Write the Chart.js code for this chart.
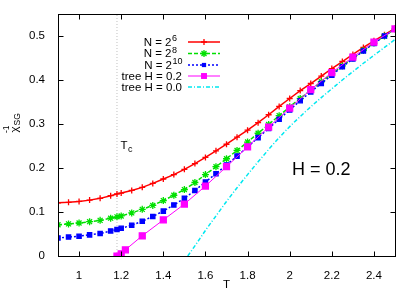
<!DOCTYPE html>
<html><head><meta charset="utf-8">
<script src="https://cdn.jsdelivr.net/npm/chart.js@4"></script>
<style>html,body{margin:0;padding:0;background:#fff}#wrap{width:415px;height:291px;position:relative}</style>
</head><body><div id="wrap"><canvas id="c" width="415" height="291"></canvas></div>
<script>
// ---- data ----
const temps = [0.9,0.95,1.0,1.05,1.1,1.15,1.18,1.2,1.25,1.3,1.35,1.4,1.45,1.5,1.55,1.6,1.65,1.7,1.75,1.8,1.85,1.9,1.95,2.0,2.05,2.1,2.15,2.2,2.25,2.3,2.35,2.4,2.45,2.5];
const chiN6  = [0.121,0.122,0.124,0.127,0.131,0.137,0.141,0.143,0.149,0.156,0.165,0.175,0.185,0.197,0.210,0.224,0.239,0.254,0.270,0.286,0.303,0.321,0.340,0.358,0.376,0.392,0.409,0.426,0.442,0.458,0.474,0.489,0.503,0.517];
const chiN8  = [0.071,0.073,0.075,0.078,0.081,0.086,0.089,0.091,0.098,0.106,0.115,0.126,0.138,0.151,0.167,0.185,0.203,0.221,0.240,0.259,0.279,0.299,0.319,0.339,0.358,0.377,0.396,0.414,0.432,0.450,0.467,0.484,0.500,0.516];
const chiN10 = [0.041,0.043,0.045,0.048,0.051,0.057,0.060,0.063,0.070,0.079,0.090,0.102,0.116,0.131,0.149,0.168,0.187,0.207,0.227,0.248,0.269,0.290,0.311,0.332,0.353,0.373,0.392,0.411,0.430,0.448,0.466,0.483,0.500,0.516];
const tempsTree02 = [1.18,1.2,1.22,1.3,1.4,1.5,1.6,1.7,1.8,1.9,2.0,2.1,2.2,2.3,2.4,2.5];
const chiTree02   = [0,0.005,0.014,0.046,0.082,0.118,0.159,0.203,0.248,0.293,0.336,0.378,0.417,0.452,0.486,0.516];
const tempsTree00 = [1.516,1.55,1.6,1.65,1.7,1.75,1.8,1.85,1.9,1.95,2.0,2.05,2.1,2.15,2.2,2.25,2.3,2.35,2.4,2.45,2.5];
const chiTree00   = [0,0.023,0.058,0.091,0.124,0.155,0.185,0.214,0.242,0.269,0.294,0.317,0.339,0.360,0.380,0.400,0.419,0.438,0.456,0.474,0.492];
const Tc = 1.18;
const xTickValues = [1,1.2,1.4,1.6,1.8,2,2.2,2.4];
const yTickValues = [0,0.1,0.2,0.3,0.4,0.5];
const seriesNames = [["N = 2","6"],["N = 2","8"],["N = 2","10"],["tree H = 0.2",""],["tree H = 0.0",""]];
const fieldLabel = "H = 0.2";

const FONT = "'Liberation Sans', Arial, Helvetica, sans-serif";
const toXY = (xs, ys) => xs.map((x,i)=>({x:x, y:ys[i]}));

const styles = [
  {color:'#ff0000', dash:[], width:1.5, marker:'plus', r:3},
  {color:'#00e000', dash:[4,2], width:1.5, marker:'star', r:3.5},
  {color:'#0000ff', dash:[2,2], width:1.5, marker:'rect', r:3},
  {color:'#ff00ff', dash:[], width:1, marker:'rect', r:4.2},
  {color:'#00e8f0', dash:[4,2,1,2], width:1.5, marker:'none', r:0}
];
const markerMap = {plus:'cross', star:'star', rect:'rect', none:false};

function mkDataset(i, data, extra){
  const s = styles[i];
  return Object.assign({
    label: seriesNames[i].join(''),
    data: data,
    borderColor: s.color, backgroundColor: s.color,
    borderWidth: s.width, borderDash: s.dash,
    pointStyle: markerMap[s.marker], pointRadius: s.r,
    pointBorderWidth: 1.3, pointBorderColor: s.color, pointBackgroundColor: s.color,
    tension: 0, fill: false, order: 4 - i
  }, extra||{});
}

function drawMarker(ctx, type, x, y, r, color){
  ctx.save();
  ctx.strokeStyle = color; ctx.fillStyle = color; ctx.lineWidth = 1.3; ctx.setLineDash([]);
  if (type === 'plus' || type === 'star'){
    ctx.beginPath();
    ctx.moveTo(x-r,y); ctx.lineTo(x+r,y); ctx.moveTo(x,y-r); ctx.lineTo(x,y+r);
    if (type === 'star'){ const d=r*0.7071; ctx.moveTo(x-d,y-d); ctx.lineTo(x+d,y+d); ctx.moveTo(x-d,y+d); ctx.lineTo(x+d,y-d); }
    ctx.stroke();
  } else if (type === 'rect'){
    const s = r*0.7071; ctx.fillRect(x-s,y-s,2*s,2*s);
  }
  ctx.restore();
}

const overlay = {
  id: 'overlay',
  afterDraw(chart){
    const {ctx, chartArea:a, scales} = chart;
    const xs = scales.x, ys = scales.y;
    ctx.save();
    ctx.setLineDash([]);
    ctx.strokeStyle = '#000'; ctx.lineWidth = 1;
    const L = Math.round(a.left)+0.5, R = Math.round(a.right)+0.5, T = Math.round(a.top)+0.5, B = Math.round(a.bottom)+0.5;
    ctx.strokeRect(L, T, R-L, B-T);
    const tl = 5;
    ctx.beginPath();
    xs.ticks.forEach(t=>{ const px = Math.round(xs.getPixelForValue(t.value))+0.5; ctx.moveTo(px,B); ctx.lineTo(px,B-tl); ctx.moveTo(px,T); ctx.lineTo(px,T+tl); });
    ys.ticks.forEach(t=>{ const py = Math.round(ys.getPixelForValue(t.value))+0.5; ctx.moveTo(L,py); ctx.lineTo(L+tl,py); ctx.moveTo(R,py); ctx.lineTo(R-tl,py); });
    ctx.stroke();

    ctx.fillStyle = '#000';
    ctx.textBaseline = 'alphabetic';
    // x label
    ctx.font = '11.5px ' + FONT; ctx.textAlign = 'center';
    ctx.fillText('T', (a.left+a.right)/2, 288);
    // Tc label
    const tcx = xs.getPixelForValue(Tc);
    ctx.textAlign = 'left';
    ctx.fillText('T', tcx+3.5, 148.5);
    const wT = ctx.measureText('T').width;
    ctx.font = '9px ' + FONT;
    ctx.fillText('c', tcx+3.5+wT+0.5, 151.5);
    // field label
    ctx.font = '18px ' + FONT;
    ctx.fillText(fieldLabel, 292, 174.5);

    // y label rotated
    ctx.save();
    ctx.translate(14, 126);
    ctx.rotate(-Math.PI/2);
    ctx.font = '11.5px ' + FONT; ctx.textAlign='left';
    ctx.fillText('\u03C7', -6.5, 3.5);
    ctx.font = '8.5px ' + FONT;
    ctx.fillText('SG', 0.5, 6);
    ctx.fillText('-1', -7, -5);
    ctx.restore();

    // legend
    const rows = [41.5, 53, 64.5, 75.5, 86.5];
    seriesNames.forEach((nm, i)=>{
      const y = rows[i];
      const s = styles[i];
      ctx.font = '11.5px ' + FONT;
      const w0 = ctx.measureText(nm[0]).width;
      ctx.font = '9px ' + FONT;
      const w1 = nm[1] ? ctx.measureText(nm[1]).width : 0;
      const right = nm[1] && nm[1].length === 1 ? 176.5 : 182;
      const x0 = right - w0 - w1;
      ctx.fillStyle = '#000'; ctx.textAlign = 'left';
      ctx.font = '11.5px ' + FONT;
      ctx.fillText(nm[0], x0, y+4.3);
      if (nm[1]){ ctx.font = '9px ' + FONT; ctx.fillText(nm[1], x0+w0+0.5, y-0.5); }
      ctx.save();
      ctx.strokeStyle = s.color; ctx.lineWidth = s.width; ctx.setLineDash(s.dash);
      ctx.beginPath(); ctx.moveTo(188, y+0.5); ctx.lineTo(220, y+0.5); ctx.stroke();
      ctx.restore();
      drawMarker(ctx, s.marker, 204, y+0.5, s.r, s.color);
    });
    ctx.restore();
  }
};

new Chart(document.getElementById('c'), {
  type: 'line',
  data: {
    datasets: [
      mkDataset(0, toXY(temps, chiN6)),
      mkDataset(1, toXY(temps, chiN8)),
      mkDataset(2, toXY(temps, chiN10)),
      mkDataset(3, toXY(tempsTree02, chiTree02)),
      mkDataset(4, toXY(tempsTree00, chiTree00), {cubicInterpolationMode:'monotone'}),
      {label:'Tc', data:[{x:Tc,y:0},{x:Tc,y:0.55}], borderColor:'#c0c0c0', borderWidth:1, borderDash:[1,2], pointRadius:0, order:10}
    ]
  },
  options: {
    responsive: false, animation: false, devicePixelRatio: 1,
    layout: {padding: {top: 14, right: 20, left: 0, bottom: 0}},
    plugins: {legend:{display:false}, tooltip:{enabled:false}},
    scales: {
      x: {
        type: 'linear', min: 0.9, max: 2.5,
        afterBuildTicks: s => { s.ticks = xTickValues.map(v=>({value:v})); },
        afterFit: s => { s.height = 35; },
        ticks: {padding: 5, color:'#000', font:{family:FONT, size:11.5}, maxRotation:0, autoSkip:false, callback: v => String(v)},
        grid: {display:false}, border:{display:false}
      },
      y: {
        type: 'linear', min: 0, max: 0.55,
        afterBuildTicks: s => { s.ticks = yTickValues.map(v=>({value:v})); },
        afterFit: s => { s.width = 58; },
        ticks: {padding: 5, color:'#000', font:{family:FONT, size:11.5}, autoSkip:false, callback: v => String(v)},
        grid: {display:false}, border:{display:false}
      }
    }
  },
  plugins: [overlay]
});
</script>
</body></html>
